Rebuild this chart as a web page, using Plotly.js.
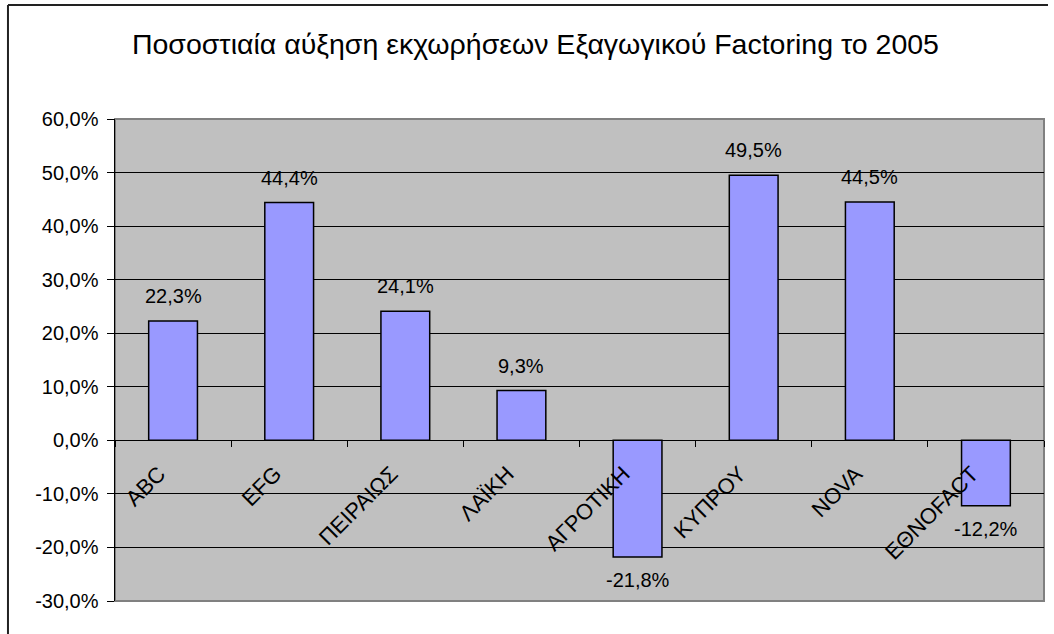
<!DOCTYPE html>
<html>
<head>
<meta charset="utf-8">
<script src="https://cdn.plot.ly/plotly-3.0.1.min.js"></script>
<style>
  html, body { margin: 0; padding: 0; background: #ffffff; }
  #chart { width: 1054px; height: 634px; }
</style>
</head>
<body>
<div id="chart"></div>
<script>
// Export factoring assignments: percentage growth in 2005, by company
const categories = ['ABC', 'EFG', 'ΠΕΙΡΑΙΩΣ', 'ΛΑΪΚΗ', 'ΑΓΡΟΤΙΚΗ', 'ΚΥΠΡΟΥ', 'NOVA', 'ΕΘΝΟFACT'];
const growthPct = [22.3, 44.4, 24.1, 9.3, -21.8, 49.5, 44.5, -12.2];
const yTickValues = [-30, -20, -10, 0, 10, 20, 30, 40, 50, 60];
const chartTitle = 'Ποσοστιαία αύξηση εκχωρήσεων Εξαγωγικού Factoring το 2005';

const FONT = '"Liberation Sans", Arial, sans-serif';

// percentages with a decimal comma and a plain hyphen for negatives
function fmt(v) { return v.toFixed(1).replace('.', ',') + '%'; }

const valueLabels = categories.map((c, i) => ({
  x: c, y: growthPct[i], xref: 'x', yref: 'y',
  text: fmt(growthPct[i]), showarrow: false,
  xanchor: 'center', yanchor: 'middle',
  yshift: growthPct[i] >= 0 ? 25 : -23,
  font: { family: FONT, size: 20, color: '#000000' }
}));

const trace = {
  type: 'bar',
  x: categories,
  y: growthPct,
  marker: { color: '#9999FF', line: { color: '#000000', width: 1.5 } },
  hoverinfo: 'skip'
};

const layout = {
  width: 1054, height: 634,
  margin: { l: 115, r: 10, t: 119, b: 33 },
  paper_bgcolor: '#ffffff',
  plot_bgcolor: '#C0C0C0',
  showlegend: false,
  bargap: 0.58,
  font: { family: FONT, size: 20, color: '#000000' },
  title: {
    text: chartTitle,
    font: { family: FONT, size: 28.5, color: '#000000' },
    xref: 'container', yref: 'container',
    x: 0.508, xanchor: 'center',
    y: 0.93, yanchor: 'middle'
  },
  xaxis: {
    type: 'category',
    anchor: 'free', position: 1 / 3,   // axis line sits on the 0% level
    tickson: 'boundaries',
    ticks: 'outside', ticklen: 6, tickcolor: '#000000', tickwidth: 1,
    tickangle: -45,
    ticklabelshift: -14,
    ticklabelstandoff: 11,
    showgrid: false,
    showline: true, linecolor: '#000000', linewidth: 1,
    tickfont: { family: FONT, size: 22, color: '#000000' },
    automargin: false,
    fixedrange: true
  },
  yaxis: {
    range: [-30, 60],
    tickmode: 'array',
    tickvals: yTickValues,
    ticktext: yTickValues.map(fmt),
    ticks: 'outside', ticklen: 7, tickcolor: '#000000', tickwidth: 1,
    ticklabelstandoff: 4,
    showgrid: true, gridcolor: '#000000', gridwidth: 1,
    zeroline: true, zerolinecolor: '#000000', zerolinewidth: 1,
    showline: true, linecolor: '#000000', linewidth: 1.5,
    tickfont: { family: FONT, size: 20, color: '#000000' },
    automargin: false,
    fixedrange: true
  },
  shapes: [
    // plot area frame (top, right, bottom)
    { type: 'rect', xref: 'paper', yref: 'paper', x0: 0, x1: 1, y0: 0, y1: 1,
      line: { color: '#808080', width: 2 }, fillcolor: 'rgba(0,0,0,0)', layer: 'below' },
    // chart area border: top and left edges
    { type: 'line', xref: 'paper', yref: 'paper', x0: -0.1152, x1: 1.0043, y0: 1.2365, y1: 1.2365,
      line: { color: '#222222', width: 2 } },
    { type: 'line', xref: 'paper', yref: 'paper', x0: -0.1152, x1: -0.1152, y0: 1.2365, y1: -0.1,
      line: { color: '#222222', width: 2 } }
  ],
  annotations: valueLabels
};

Plotly.newPlot('chart', [trace], layout, { staticPlot: true, displayModeBar: false });
</script>
</body>
</html>
